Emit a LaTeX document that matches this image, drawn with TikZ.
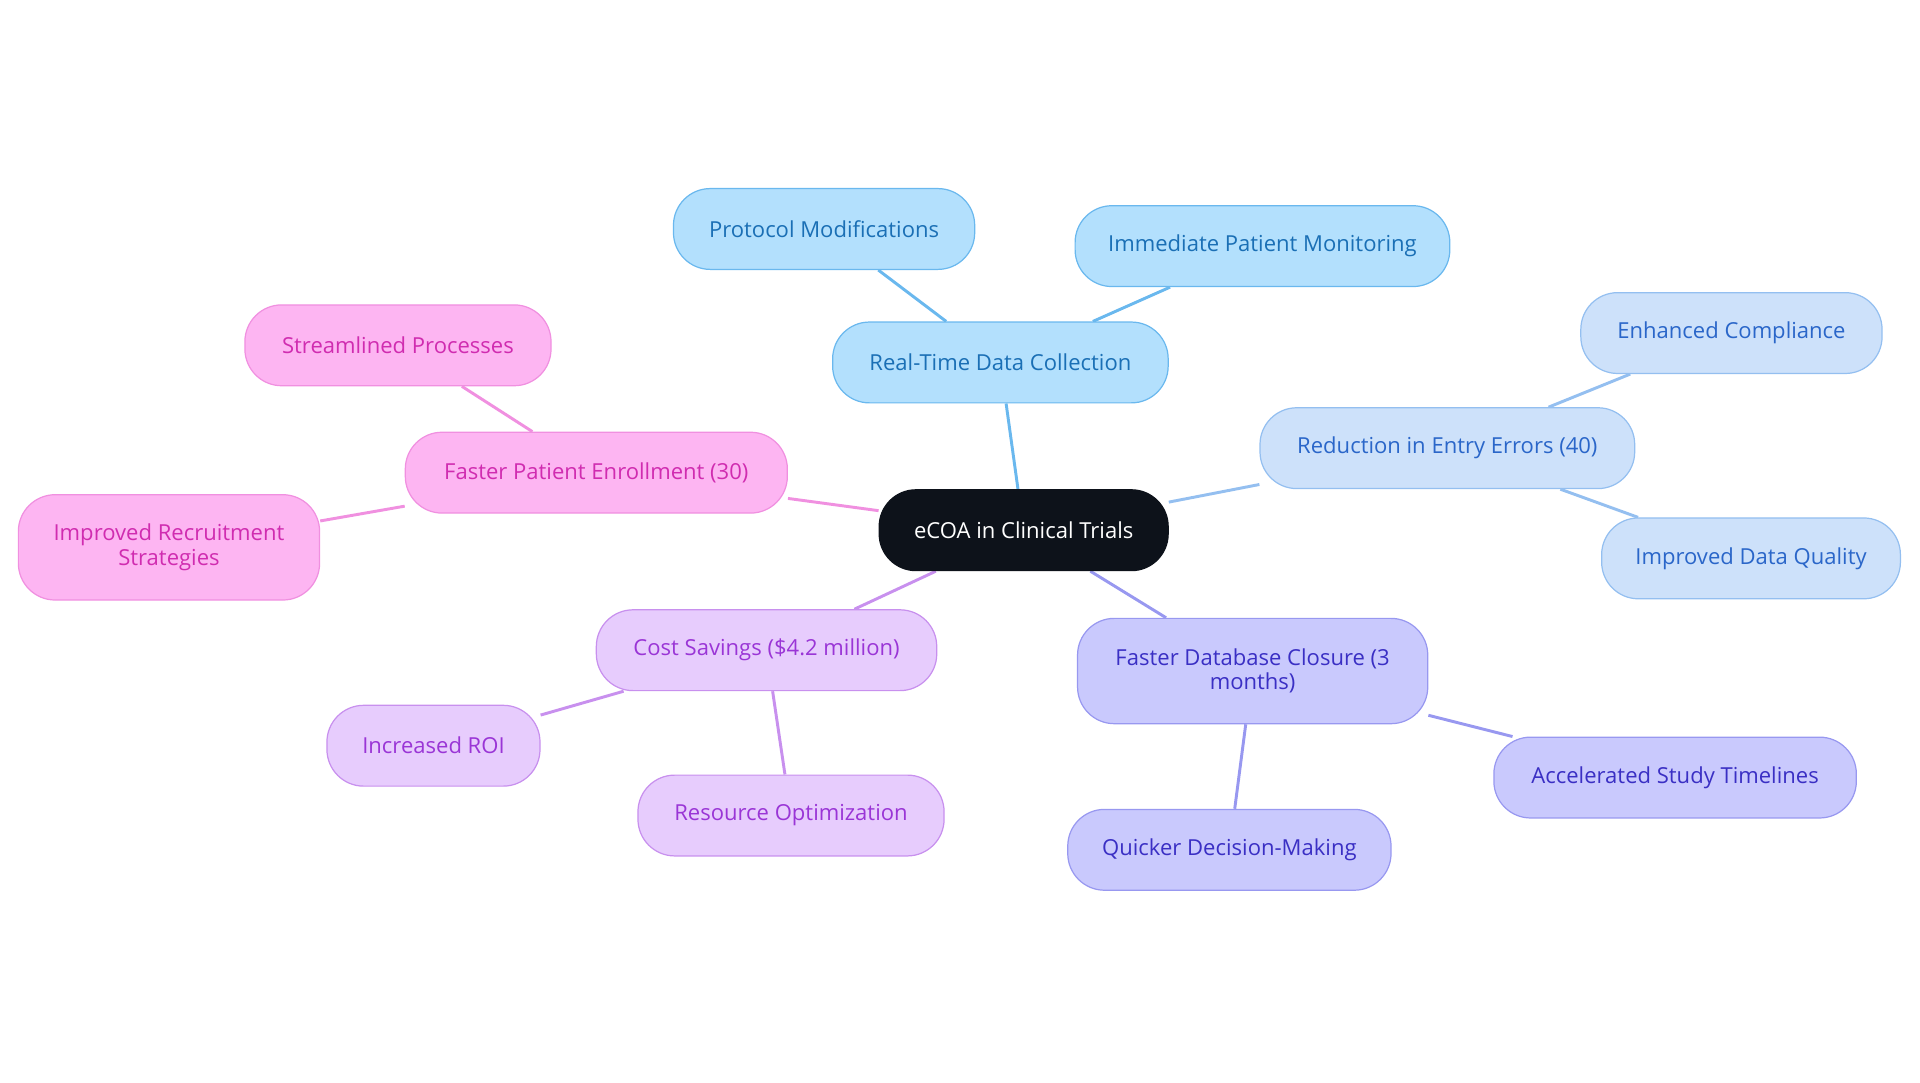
\documentclass[tikz,border=0pt]{standalone}
\usepackage{fontspec}
\setmainfont{Open Sans}
\usetikzlibrary{backgrounds}
\begin{document}
\begin{tikzpicture}[x=0.5pt,y=-0.5pt,
 base/.style={rounded corners=15pt,minimum height=33pt,inner sep=0pt,align=center,font=\fontsize{9}{10}\selectfont,line width=0.5pt},
 cb/.style={base,fill=blue0!100,draw=blue1,text=blue2},
 cl/.style={base,fill=lb0,draw=lb1,text=lb2},
 cv/.style={base,fill=vi0,draw=vi1,text=vi2},
 cp/.style={base,fill=pu0,draw=pu1,text=pu2},
 cpk/.style={base,fill=pk0,draw=pk1,text=pk2},
 ln/.style={line width=1.2pt}]
\definecolor{blue0}{HTML}{B3E0FD}\definecolor{blue1}{HTML}{6AB8EE}\definecolor{blue2}{HTML}{1A6FB5}
\definecolor{lb0}{HTML}{CDE1FA}\definecolor{lb1}{HTML}{94BFF0}\definecolor{lb2}{HTML}{2A66C9}
\definecolor{vi0}{HTML}{C9C9FD}\definecolor{vi1}{HTML}{9898F0}\definecolor{vi2}{HTML}{3A2FC4}
\definecolor{pu0}{HTML}{E7CCFD}\definecolor{pu1}{HTML}{C890EE}\definecolor{pu2}{HTML}{9A35D6}
\definecolor{pk0}{HTML}{FDB5F2}\definecolor{pk1}{HTML}{F090E0}\definecolor{pk2}{HTML}{D02CB0}
\definecolor{dark}{HTML}{0D121A}
\useasboundingbox (0,0) rectangle (1568,884);
\node[base,fill=dark,draw=dark,text=white,minimum width=118pt] (c) at (836,433) {eCOA in Clinical Trials};
\node[cb,minimum width=137pt] (rt) at (817,296) {Real-Time Data Collection};
\node[cb,minimum width=123pt] (pm) at (673,187) {Protocol Modifications};
\node[cb,minimum width=153pt] (im) at (1031,201) {Immediate Patient Monitoring};
\node[cl,minimum width=153pt] (re) at (1182,366) {Reduction in Entry Errors (40)};
\node[cl,minimum width=123pt] (ec) at (1414,272) {Enhanced Compliance};
\node[cl,minimum width=122pt] (dq) at (1430,456) {Improved Data Quality};
\node[cv,minimum width=143pt,minimum height=43pt] (fd) at (1023,548) {Faster Database Closure (3\\months)};
\node[cv,minimum width=148pt] (ac) at (1368,635) {Accelerated Study Timelines};
\node[cv,minimum width=132pt] (qd) at (1004,694) {Quicker Decision-Making};
\node[cp,minimum width=139pt] (cs) at (626,531) {Cost Savings (\$4.2 million)};
\node[cp,minimum width=87pt] (roi) at (354,609) {Increased ROI};
\node[cp,minimum width=125pt] (ro) at (646,666) {Resource Optimization};
\node[cpk,minimum width=156pt] (fp) at (487,386) {Faster Patient Enrollment (30)};
\node[cpk,minimum width=125pt] (sp) at (325,282) {Streamlined Processes};
\node[cpk,minimum width=123pt,minimum height=43pt] (ir) at (138,447) {Improved Recruitment\\Strategies};
\begin{scope}[on background layer]
\draw[ln,blue1] (c) -- (rt) (rt) -- (pm) (rt) -- (im);
\draw[ln,lb1] (c) -- (re) (re) -- (ec) (re) -- (dq);
\draw[ln,vi1] (c) -- (fd) (fd) -- (ac) (fd) -- (qd);
\draw[ln,pu1] (c) -- (cs) (cs) -- (roi) (cs) -- (ro);
\draw[ln,pk1] (c) -- (fp) (fp) -- (sp) (fp) -- (ir);
\end{scope}
\end{tikzpicture}
\end{document}
